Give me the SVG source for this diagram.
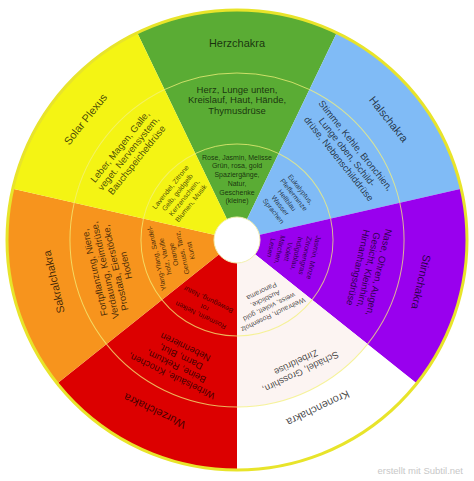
<svg xmlns="http://www.w3.org/2000/svg" xmlns:xlink="http://www.w3.org/1999/xlink" width="474" height="481" viewBox="0 0 474 481">
<style>
text{font-family:"Liberation Sans",Arial,sans-serif;fill:#000;fill-opacity:0.72;text-anchor:middle}
.t{font-size:11px}
.m{font-size:9.5px}
.i{font-size:7px}
.ring{fill:none;stroke:#f3f07a;stroke-opacity:0.75;stroke-width:1}
.foot{font-size:9.5px;fill:#c8c8c8;fill-opacity:1;text-anchor:end}
</style>
<defs>
<path id="w" d="M237,240 L137.21,32.78 A230,230 0 0 1 336.79,32.78 Z"/>
<path id="a" d="M164.54,89.54 A167,167 0 0 1 309.46,89.54 M195.35,153.51 A96,96 0 0 1 278.65,153.51"/>
</defs>
<rect width="474" height="481" fill="#fff"/>
<g id="herzchakra" transform="rotate(0 237 240)">
<use xlink:href="#w" fill="#5aac34"/>
<use xlink:href="#a" class="ring"/>
<text class="t" x="237" y="47">Herzchakra</text>
<text class="m" x="237" y="92.6">Herz, Lunge unten,<tspan x="237" dy="10.7">Kreislauf, Haut, Hände,</tspan><tspan x="237" dy="10.7">Thymusdrüse</tspan></text>
<text class="i" x="237" y="159.7">Rose, Jasmin, Melisse<tspan x="237" dy="8.7">Grün, rosa, gold</tspan><tspan x="237" dy="8.7">Spaziergänge,</tspan><tspan x="237" dy="8.7">Natur,</tspan><tspan x="237" dy="8.7">Geschenke</tspan><tspan x="237" dy="8.7">(kleine)</tspan></text>
</g>
<g id="halschakra" transform="rotate(51.428571 237 240)">
<use xlink:href="#w" fill="#80bbf6"/>
<use xlink:href="#a" class="ring"/>
<text class="t" x="237" y="50">Halschakra</text>
<text class="m" x="237" y="91.6">Stimme, Kehle, Bronchien,<tspan x="237" dy="10.7">Lunge oben, Schild-</tspan><tspan x="237" dy="10.7">drüse, Nebenschilddrüse</tspan></text>
<text class="i" x="237" y="161.05">Eukalyptus,<tspan x="237" dy="8.7">Pfefferminze</tspan><tspan x="237" dy="8.7">Hellblau</tspan><tspan x="237" dy="8.7">Wasser</tspan><tspan x="237" dy="8.7">Sprachen</tspan></text>
</g>
<g id="stirnchakra" transform="rotate(102.857143 237 240)">
<use xlink:href="#w" fill="#9900ee"/>
<use xlink:href="#a" class="ring"/>
<text class="t" x="237" y="55">Stirnchakra</text>
<text class="m" x="237" y="97.6">Nase, Ohren, Augen,<tspan x="237" dy="10.7">Gesicht, Kleinhirn,</tspan><tspan x="237" dy="10.7">Hirnanhangsdrüse</tspan></text>
<text class="i" x="237" y="163.7">Jasmin, Minze<tspan x="237" dy="8.7">Zitronengras</tspan><tspan x="237" dy="8.7">Indigoblau,</tspan><tspan x="237" dy="8.7">Violett</tspan><tspan x="237" dy="8.7">Märchen,</tspan><tspan x="237" dy="8.7">Lesen</tspan></text>
</g>
<g id="kronenchakra" transform="rotate(154.285714 237 240)">
<use xlink:href="#w" fill="#ffffff"/>
<path d="M237,240 L164.54,89.54 A167,167 0 0 1 309.46,89.54 Z" fill="#fcf4f2"/>
<use xlink:href="#a" class="ring"/>
<text class="t" x="237" y="57">Kronenchakra</text>
<text class="m" x="237" y="96.6">Schädel, Grosshirn,<tspan x="237" dy="10.7">Zirbeldrüse</tspan></text>
<text class="i" x="237" y="159.4">Weihrauch, Rosenholz<tspan x="237" dy="8.7">weiss, violett, gold</tspan><tspan x="237" dy="8.7">Ausblicke,</tspan><tspan x="237" dy="8.7">Panorama</tspan></text>
</g>
<g id="wurzelchakra" transform="rotate(205.714286 237 240)">
<use xlink:href="#w" fill="#dc0000"/>
<use xlink:href="#a" class="ring"/>
<text class="t" x="237" y="54">Wurzelchakra</text>
<text class="m" x="237" y="92.25">Wirbelsäule, Knochen,<tspan x="237" dy="10.7">Beine, Rektum,</tspan><tspan x="237" dy="10.7">Darm, Blut,</tspan><tspan x="237" dy="10.7">Nebennieren</tspan></text>
<text class="i" x="237" y="158.75">Rosmarin, Nelken<tspan x="237" dy="8.7">rot</tspan><tspan x="237" dy="8.7">Bewegung, Natur</tspan></text>
</g>
<g id="sakralchakra" transform="rotate(257.142857 237 240)">
<use xlink:href="#w" fill="#f7941d"/>
<use xlink:href="#a" class="ring"/>
<text class="t" x="237" y="56">Sakralchakra</text>
<text class="m" x="237" y="97.25">Fortpflanzung, Niere,<tspan x="237" dy="10.7">Verdauung, Keimdrüse,</tspan><tspan x="237" dy="10.7">Prostata, Eierstöcke,</tspan><tspan x="237" dy="10.7">Hoden</tspan></text>
<text class="i" x="237" y="160.05">Ylang-Ylang, Sandel-<tspan x="237" dy="8.7">holz, Vanille</tspan><tspan x="237" dy="8.7">Orange</tspan><tspan x="237" dy="8.7">Genuss, Tanz,</tspan><tspan x="237" dy="8.7">Kunst</tspan></text>
</g>
<g id="solarplexus" transform="rotate(308.571429 237 240)">
<use xlink:href="#w" fill="#f4f414"/>
<use xlink:href="#a" class="ring"/>
<text class="t" x="237" y="50">Solar Plexus</text>
<text class="m" x="237" y="93.6">Leber, Magen, Galle,<tspan x="237" dy="10.7">veget. Nervensystem,</tspan><tspan x="237" dy="10.7">Bauchspeicheldrüse</tspan></text>
<text class="i" x="237" y="157.4">Lavendel, Zitrone<tspan x="237" dy="8.7">Gelb, goldgelb</tspan><tspan x="237" dy="8.7">Kerzenschein,</tspan><tspan x="237" dy="8.7">Blumen, Musik</tspan></text>
</g>
<g id="connectors">
<circle cx="237" cy="240" r="230" fill="none" stroke="#e8e42a" stroke-width="3"/>
<circle cx="237" cy="240" r="23" fill="#fff" stroke="#f3f0b0" stroke-width="1"/>
</g>
<text class="foot" x="463" y="474">erstellt mit Subtil.net</text>
</svg>
